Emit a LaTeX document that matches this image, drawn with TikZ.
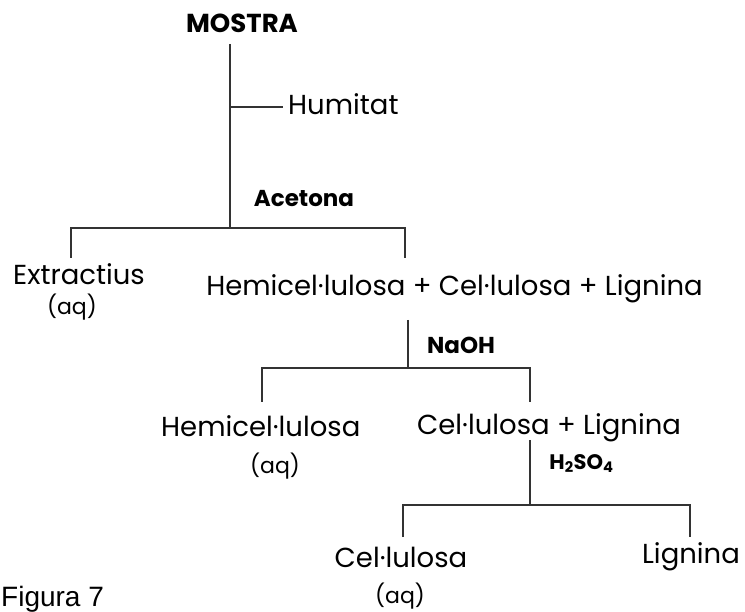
\documentclass[tikz,border=0pt]{standalone}
\usepackage{fontspec}
\setmainfont{Poppins}
\newfontfamily\capfont{Liberation Sans}
\usetikzlibrary{positioning}

\tikzset{
  prod/.style={inner sep=0pt, anchor=base, font=\fontsize{27.5}{32}\selectfont},
  aq/.style={inner sep=0pt, anchor=base, font=\fontsize{22}{26}\selectfont},
  reag/.style={inner sep=0pt, anchor=base, font=\fontsize{23}{27}\selectfont\bfseries},
  branch/.style={line width=1.3pt, draw=black!80},
}

\begin{document}
\begin{tikzpicture}[x=1pt, y=-1pt]
	\useasboundingbox (0,0) rectangle (745,612);

	% texts
	\node[reag, font=\fontsize{26}{30}\selectfont\bfseries] (mostra) at (242,33) {MOSTRA};
	\node[prod, anchor=base west] (humitat) at (288,115) {Humitat};
	\node[reag] (acetona) at (304,207) {Acetona};
	\node[prod] (extr) at (79,285) {Extractius};
	\node[aq] (aqa) at (72,315) {(aq)};
	\node[prod] (mix) at (454.5,296) {Hemicel·lulosa + Cel·lulosa + Lignina};
	\node[reag] (naoh) at (461,354) {NaOH};
	\node[prod, anchor=base west] (hemi) at (161,437) {Hemicel·lulosa};
	\node[aq] (aqb) at (275,473) {(aq)};
	\node[prod, anchor=base west] (cellig) at (417,435) {Cel·lulosa + Lignina};
	\node[reag, font=\fontsize{21}{25}\selectfont\bfseries] (acid) at (581.5,469) {H\textsubscript{2}SO\textsubscript{4}};
	\node[prod] (cel) at (401,567) {Cel·lulosa};
	\node[aq] (aqc) at (400,603) {(aq)};
	\node[prod] (lignina) at (691,563) {Lignina};
	\node[inner sep=0pt, anchor=base west, font=\capfont\fontsize{28}{32}\selectfont] (fig) at (1,606) {Figura 7};

	% junctions
	\coordinate (m0) at (230,44);
	\coordinate (m1) at (230,107);
	\coordinate (m2) at (230,228);
	\coordinate (hu) at (283,107);
	\coordinate (e0) at (71,228);
	\coordinate (e1) at (71,258);
	\coordinate (x0) at (405,228);
	\coordinate (x1) at (405,258);

	\coordinate (n0) at (408,320);
	\coordinate (n1) at (408,368);
	\coordinate (h0) at (262,368);
	\coordinate (h1) at (262,402);
	\coordinate (c0) at (530,368);
	\coordinate (c1) at (530,402);

	\coordinate (s0) at (530,440);
	\coordinate (s1) at (530,505);
	\coordinate (k0) at (403,505);
	\coordinate (k1) at (403,537);
	\coordinate (l0) at (690,505);
	\coordinate (l1) at (690,537);

	% branches
	\draw[branch] (m0) -- (m2);
	\draw[branch] (m1) -- (hu);
	\draw[branch] (e1) -- (e0) -- (x0) -- (x1);
	\draw[branch] (n0) -- (n1);
	\draw[branch] (h1) -- (h0) -- (c0) -- (c1);
	\draw[branch] (s0) -- (s1);
	\draw[branch] (k1) -- (k0) -- (l0) -- (l1);
\end{tikzpicture}
\end{document}
